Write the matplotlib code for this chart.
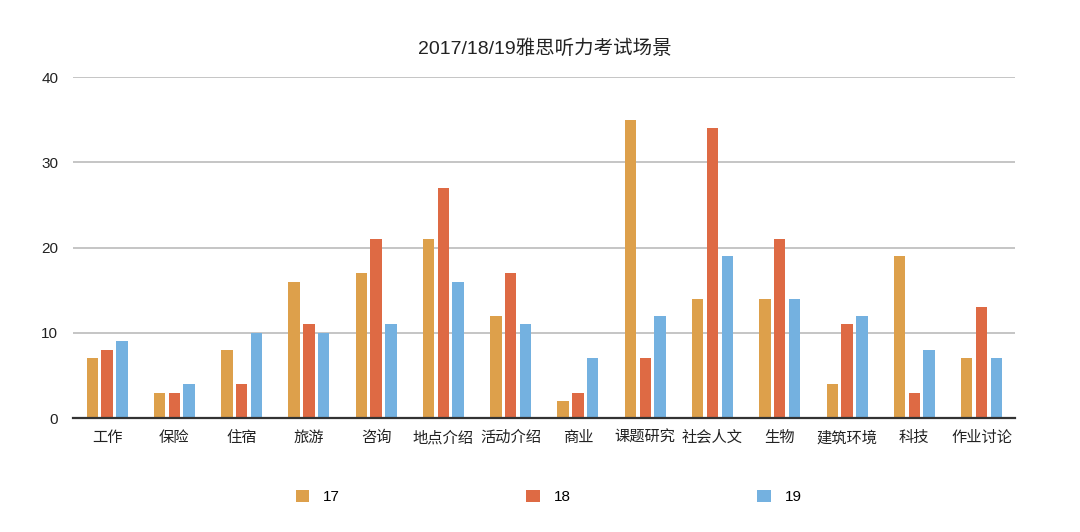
import matplotlib.pyplot as plt
import numpy as np

plt.rcParams['font.family'] = ['Liberation Sans', 'Noto Sans CJK SC', 'DejaVu Sans']

categories = ['工作', '保险', '住宿', '旅游', '咨询', '地点介绍', '活动介绍', '商业',
              '课题研究', '社会人文', '生物', '建筑环境', '科技', '作业讨论']
y17 = [7, 3, 8, 16, 17, 21, 12, 2, 35, 14, 14, 4, 19, 7]
y18 = [8, 3, 4, 11, 21, 27, 17, 3, 7, 34, 21, 11, 3, 13]
y19 = [9, 4, 10, 10, 11, 16, 11, 7, 12, 19, 14, 12, 8, 7]
series = ['17', '18', '19']
colors = ['#DDA04B', '#DE6A44', '#74B1E0']

fig = plt.figure(figsize=(10.8, 5.32), dpi=100)
ax = fig.add_axes([0.068, 0.214, 0.872, 0.641])

x = np.arange(len(categories))
w = 0.17
off = 0.22
bars = []
for i, (vals, c) in enumerate(zip([y17, y18, y19], colors)):
    b = ax.bar(x + (i - 1) * off, vals, width=w, color=c, zorder=3, label=series[i])
    bars.append(b)

ax.set_xlim(-0.5, len(categories) - 0.5)
ax.set_ylim(0, 40)
ax.set_yticks([0, 10, 20, 30, 40])
ax.yaxis.grid(True, color='#BBBBBB', linewidth=1.2, zorder=0)
ax.set_axisbelow(True)
for s in ['left', 'right', 'top']:
    ax.spines[s].set_visible(False)
ax.spines['bottom'].set_color('#333333')
ax.spines['bottom'].set_linewidth(1.6)
ax.spines['bottom'].set_zorder(4)
ax.tick_params(axis='both', length=0, labelsize=11, colors='#222222')
ax.tick_params(axis='y', pad=11)
ax.tick_params(axis='x', pad=9)
ax.set_xticks(x)
ax.set_xticklabels(categories)

ax.set_title('2017/18/19雅思听力考试场景', fontsize=14, color='#222222', pad=17)

fig.legend(handles=bars, labels=series, loc='center', bbox_to_anchor=(0.508, 0.066),
           ncol=3, frameon=False, fontsize=11, handlelength=0.9, handleheight=0.9,
           handletextpad=0.9, columnspacing=12.2)

fig.savefig('out.png', dpi=100, facecolor='white')
